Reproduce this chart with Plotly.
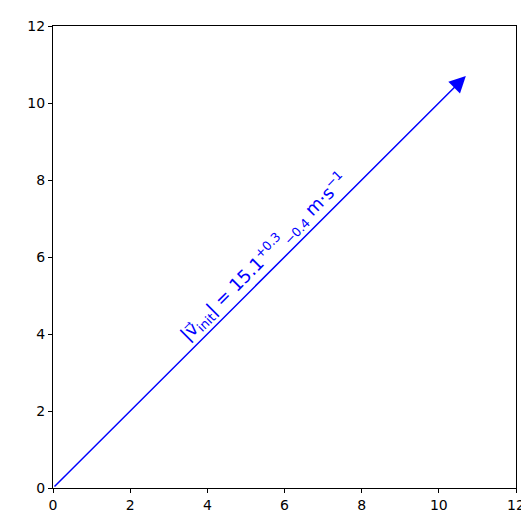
import plotly.graph_objects as go

# vector components (m) and the label values
vec_start = [0.0, 0.0]
vec_end = [10.7, 10.7]
speed = 15.1
err_up = 0.3
err_down = 0.4
label_pos = [5.45, 6.0]
ticks = [0, 2, 4, 6, 8, 10, 12]

fig = go.Figure()
fig.add_trace(go.Scatter(x=vec_start, y=vec_start, mode="markers", marker=dict(size=0.1, opacity=0), showlegend=False, hoverinfo="skip"))

fig.add_annotation(x=vec_end[0], y=vec_end[1], ax=vec_start[0], ay=vec_start[1],
                   xref="x", yref="y", axref="x", ayref="y", text="",
                   showarrow=True, arrowhead=2, arrowsize=2.2, arrowwidth=1.5, arrowcolor="blue")

label = ("|v\u20d7<sub>init</sub>| = %.1f<sup>+%.1f</sup><sub>\u2212%.1f</sub> m\u00b7s<sup>\u22121</sup>"
         % (speed, err_up, err_down))
fig.add_annotation(x=label_pos[0], y=label_pos[1], xref="x", yref="y", text=label, showarrow=False,
                   textangle=-45, font=dict(size=18, color="blue", family="DejaVu Sans"))

axis = dict(range=[0, 12], tickvals=ticks, showgrid=False, zeroline=False, showline=True,
            linecolor="black", linewidth=1, mirror=True, ticks="outside", ticklen=4,
            tickcolor="black", tickfont=dict(size=14, color="black"), automargin=False)
fig.update_xaxes(**axis)
fig.update_yaxes(**axis)
fig.update_layout(width=529, height=522, plot_bgcolor="white", paper_bgcolor="white",
                  margin=dict(l=45, r=21, t=18, b=42), font=dict(family="DejaVu Sans"))
fig.write_html("out.html")
